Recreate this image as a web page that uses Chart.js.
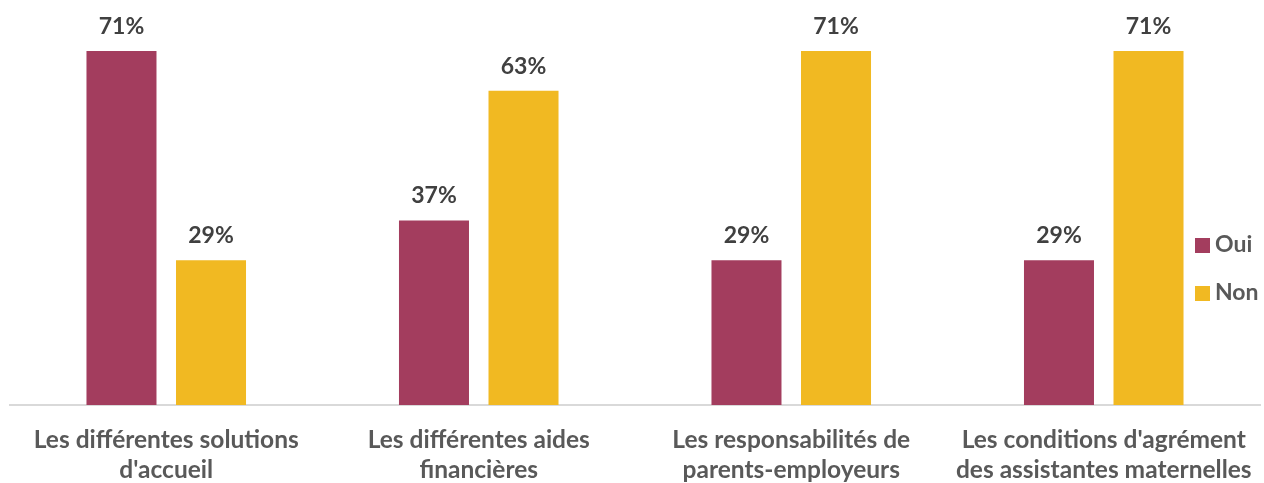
<!DOCTYPE html>
<html lang="fr">
<head>
  <meta charset="UTF-8" />
  <title>Connaissances des parents</title>
  <script src="https://cdn.jsdelivr.net/npm/chart.js"></script>
  <style>
    body {
      margin: 0;
      background: #ffffff;
    }
    .chart-box {
      width: 1264px;
      height: 483px;
      position: relative;
    }
  </style>
</head>
<body>

<div class="chart-box">
  <canvas id="barChart"></canvas>
</div>

<script>
  const categories = [
    ["Les différentes solutions", "d'accueil"],
    ["Les différentes aides", "financières"],
    ["Les responsabilités de", "parents-employeurs"],
    ["Les conditions d'agrément", "des assistantes maternelles"]
  ];
  const seriesNames = ["Oui", "Non"];
  const ouiValues = [71, 37, 29, 29];
  const nonValues = [29, 63, 71, 71];
  const seriesColors = ["#A33D5E", "#F1B922"];

  const FONT = "Lato, 'Open Sans', sans-serif";

  // percent labels above each bar
  const valueLabels = {
    id: 'valueLabels',
    afterDatasetsDraw(chart) {
      const ctx = chart.ctx;
      ctx.save();
      ctx.font = "bold 23px " + FONT;
      ctx.fillStyle = "#404040";
      ctx.textAlign = "center";
      ctx.textBaseline = "bottom";
      chart.data.datasets.forEach((ds, i) => {
        chart.getDatasetMeta(i).data.forEach((bar, j) => {
          ctx.fillText(ds.data[j] + "%", bar.x, bar.y - 13);
        });
      });
      ctx.restore();
    }
  };

  // legend drawn on the right, over the plot like in Excel
  const sideLegend = {
    id: 'sideLegend',
    afterDraw(chart) {
      const ctx = chart.ctx;
      ctx.save();
      ctx.font = "bold 23px " + FONT;
      ctx.textBaseline = "middle";
      ctx.textAlign = "left";
      chart.data.datasets.forEach((ds, i) => {
        const y = 245 + i * 48;
        ctx.fillStyle = ds.backgroundColor;
        ctx.fillRect(1195, y - 7, 15, 15);
        ctx.fillStyle = "#595959";
        ctx.fillText(ds.label, 1215, y);
      });
      ctx.restore();
    }
  };

  new Chart(document.getElementById("barChart"), {
    type: 'bar',
    data: {
      labels: categories,
      datasets: [
        { label: seriesNames[0], data: ouiValues, backgroundColor: seriesColors[0] },
        { label: seriesNames[1], data: nonValues, backgroundColor: seriesColors[1] }
      ]
    },
    options: {
      responsive: true,
      maintainAspectRatio: false,
      animation: false,
      layout: { padding: { left: 10, right: 4, top: 6, bottom: 0 } },
      datasets: {
        bar: { categoryPercentage: 0.573, barPercentage: 0.782 }
      },
      plugins: {
        legend: { display: false },
        tooltip: { enabled: false }
      },
      scales: {
        x: {
          grid: { display: false, drawTicks: false },
          border: { color: "#D9D9D9", width: 2 },
          afterFit(scale) {
            scale.height = 78;
            // labels may run past the plot edge, don't shrink the plot for them
            scale.paddingLeft = 0;
            scale.paddingRight = 0;
          },
          ticks: {
            color: "#595959",
            padding: 20,
            maxRotation: 0,
            autoSkip: false,
            font: { family: FONT, size: 24.5, weight: 'bold', lineHeight: 1.22 }
          }
        },
        y: {
          display: false,
          min: 0,
          max: 80
        }
      }
    },
    plugins: [valueLabels, sideLegend]
  });
</script>
</body>
</html>
